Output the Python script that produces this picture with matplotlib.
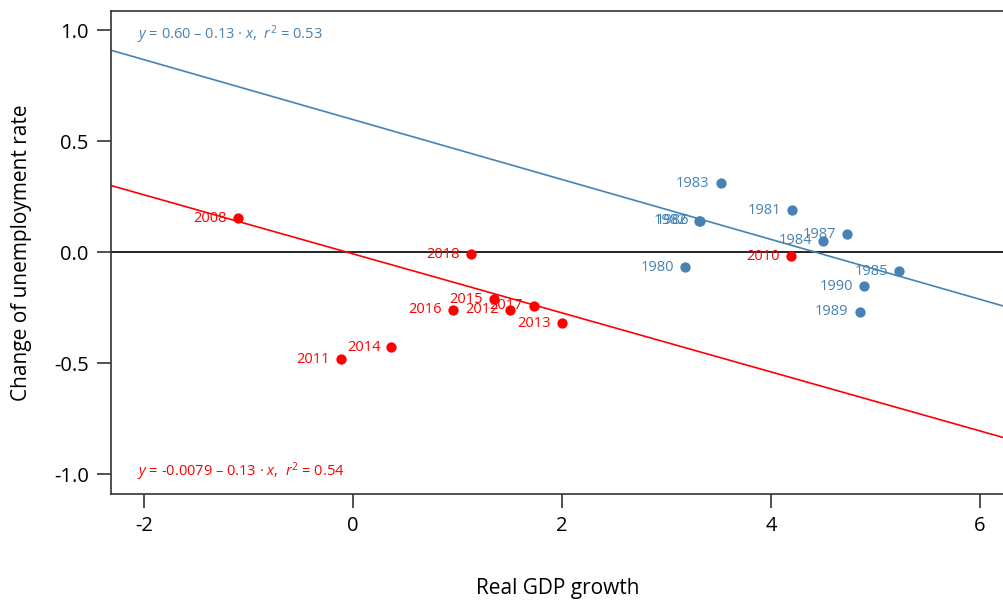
import matplotlib
matplotlib.use('Agg')
import matplotlib.pyplot as plt
import numpy as np

plt.rcParams['font.family'] = ['Open Sans', 'DejaVu Sans']
plt.rcParams['mathtext.fontset'] = 'custom'
plt.rcParams['mathtext.it'] = 'Open Sans:italic'
plt.rcParams['mathtext.rm'] = 'Open Sans'

# 1980s
years_80 = ['1980', '1981', '1982', '1983', '1984', '1985', '1986', '1987', '1989', '1990']
gdp_80 = [3.18, 4.20, 3.31, 3.52, 4.50, 5.23, 3.32, 4.73, 4.85, 4.89]
unemp_80 = [-0.068, 0.189, 0.141, 0.311, 0.050, -0.086, 0.140, 0.081, -0.270, -0.153]
fit_80 = (0.597, -0.135)

# 2008-2018
years_10 = ['2008', '2010', '2011', '2012', '2013', '2014', '2015', '2016', '2017', '2018']
gdp_10 = [-1.10, 4.19, -0.11, 1.50, 2.00, 0.37, 1.35, 0.96, 1.73, 1.13]
unemp_10 = [0.153, -0.018, -0.482, -0.261, -0.320, -0.428, -0.212, -0.261, -0.243, -0.009]
fit_10 = (-0.0079, -0.133)

blue = '#4682B4'
red = '#FF0000'

fig = plt.figure(figsize=(10.04, 6.04), dpi=100)
ax = fig.add_axes([111/1004, (604-494)/604, (1004-111)/1004, (494-11)/604])
ax.set_xlim(-2.313, 6.23)
ax.set_ylim(-1.090, 1.086)

ax.axhline(0, color='black', lw=1.2, zorder=1)

xs = np.array(ax.get_xlim())
ax.plot(xs, fit_80[0] + fit_80[1]*xs, color=blue, lw=1.2, zorder=2)
ax.plot(xs, fit_10[0] + fit_10[1]*xs, color=red, lw=1.2, zorder=2)

ax.scatter(gdp_80, unemp_80, s=55, color=blue, zorder=3, linewidths=0)
ax.scatter(gdp_10, unemp_10, s=55, color=red, zorder=3, linewidths=0)

for yr, x, y in zip(years_80, gdp_80, unemp_80):
    ax.annotate(yr, (x, y), xytext=(-8, 0), textcoords='offset points',
                ha='right', va='center', color=blue, fontsize=10.5)
for yr, x, y in zip(years_10, gdp_10, unemp_10):
    ax.annotate(yr, (x, y), xytext=(-8, 0), textcoords='offset points',
                ha='right', va='center', color=red, fontsize=10.5)

ax.text(0.029, 0.975, r'$y$ = 0.60 – 0.13 · $x$,  $r^2$ = 0.53', transform=ax.transAxes,
        ha='left', va='top', color=blue, fontsize=10.5)
ax.text(0.029, 0.022, r'$y$ = -0.0079 – 0.13 · $x$,  $r^2$ = 0.54', transform=ax.transAxes,
        ha='left', va='bottom', color=red, fontsize=10.5)

ax.set_xticks([-2, 0, 2, 4, 6])
ax.set_yticks([-1.0, -0.5, 0.0, 0.5, 1.0])
ax.set_yticklabels(['-1.0', '-0.5', '0.0', '0.5', '1.0'])
ax.set_xticklabels(['-2', '0', '2', '4', '6'])
ax.tick_params(length=10, width=1.2, color='#333333', labelsize=14.5, pad=6)
for s in ['left', 'bottom', 'top']:
    ax.spines[s].set_color('#333333')
    ax.spines[s].set_linewidth(1.2)
ax.spines['right'].set_visible(False)

ax.set_xlabel('Real GDP growth', fontsize=15, labelpad=30)
ax.set_ylabel('Change of unemployment rate', fontsize=15, labelpad=16)

fig.savefig('out.png', dpi=100)
